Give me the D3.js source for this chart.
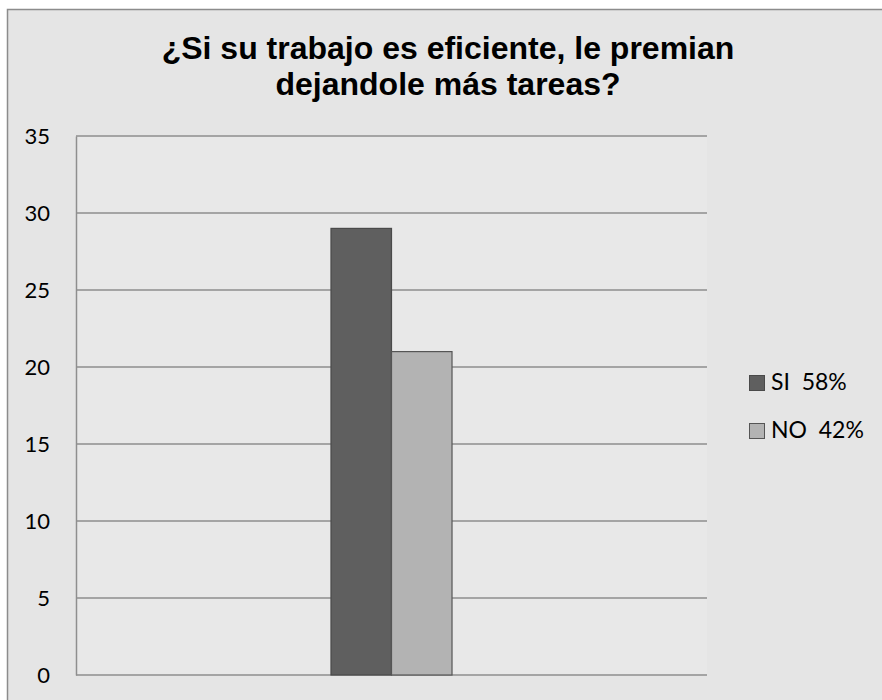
<!DOCTYPE html>
<html>
<head>
<meta charset="utf-8">
<script src="https://cdn.jsdelivr.net/npm/d3@7"></script>
<style>
  html, body { margin: 0; padding: 0; background: #ffffff; }
  svg { display: block; }
</style>
</head>
<body>
<div id="chart"></div>
<script>
// Survey answers: one question, two answer series
const categories = [""];
const seriesNames = ["SI", "NO"];
const seriesValues = [29, 21];
const seriesLegend = ["SI  58%", "NO  42%"];
const yTicks = [0, 5, 10, 15, 20, 25, 30, 35];
const titleLines = ["¿Si su trabajo es eficiente, le premian", "dejandole más tareas?"];

const W = 882, H = 700;
const plot = { left: 76, right: 707, top: 136, bottom: 675 };
const fills = ["#5f5f5f", "#b3b3b3"];
const strokes = ["#4a4a4a", "#555555"];

const svg = d3.select("#chart").append("svg")
  .attr("width", W).attr("height", H);

// chart frame
svg.append("rect")
  .attr("x", 7.5).attr("y", 9.5)
  .attr("width", W).attr("height", H)
  .attr("fill", "#e5e5e5")
  .attr("stroke", "#8c8c8c").attr("stroke-width", 1.5);

// plot area
svg.append("rect")
  .attr("x", plot.left).attr("y", plot.top)
  .attr("width", plot.right - plot.left).attr("height", plot.bottom - plot.top)
  .attr("fill", "#e8e8e8");

// title
svg.append("g").selectAll("text").data(titleLines).join("text")
  .attr("x", 448).attr("y", (d, i) => 59 + i * 36)
  .attr("text-anchor", "middle")
  .attr("font-family", "'Liberation Sans', Arial, sans-serif")
  .attr("font-weight", "bold").attr("font-size", 32)
  .attr("fill", "#000")
  .text(d => d);

const y = d3.scaleLinear().domain([0, 35]).range([plot.bottom, plot.top]);
const x0 = d3.scaleBand().domain(categories)
  .range([plot.left, plot.right]).paddingInner(0).paddingOuter(2.107);
const x1 = d3.scaleBand().domain(seriesNames).range([0, x0.bandwidth()]);

// gridlines
svg.append("g").selectAll("line").data(yTicks).join("line")
  .attr("x1", plot.left).attr("x2", plot.right)
  .attr("y1", d => y(d)).attr("y2", d => y(d))
  .attr("stroke", "#8e8e8e").attr("stroke-width", 1.5);

// y axis
const yAxis = svg.append("g")
  .attr("transform", `translate(${plot.left},0)`)
  .call(d3.axisLeft(y).tickValues(yTicks).tickSize(0).tickPadding(26));
yAxis.select(".domain").attr("stroke", "#8e8e8e").attr("stroke-width", 1.5);
yAxis.selectAll("text")
  .attr("font-family", "Lato, 'Open Sans', sans-serif")
  .attr("font-size", 22).attr("fill", "#000");

// bars
const group = svg.append("g")
  .attr("transform", `translate(${x0(categories[0])},0)`);
group.selectAll("rect").data(seriesValues).join("rect")
  .attr("x", (d, i) => x1(seriesNames[i]))
  .attr("y", d => y(d))
  .attr("width", x1.bandwidth())
  .attr("height", d => y(0) - y(d))
  .attr("fill", (d, i) => fills[i])
  .attr("stroke", (d, i) => strokes[i]).attr("stroke-width", 1.2);

// legend
const legend = svg.append("g").attr("transform", "translate(749,375)");
const items = legend.selectAll("g").data(seriesLegend).join("g")
  .attr("transform", (d, i) => `translate(0,${i * 48})`);
items.append("rect")
  .attr("x", 0.5).attr("y", 0.5).attr("width", 15).attr("height", 15)
  .attr("fill", (d, i) => fills[i])
  .attr("stroke", (d, i) => strokes[i]).attr("stroke-width", 1);
items.append("text")
  .attr("x", 22).attr("y", 15)
  .attr("font-family", "Lato, 'Open Sans', sans-serif")
  .attr("font-size", 23).attr("fill", "#000")
  .style("white-space", "pre")
  .text(d => d);
</script>
</body>
</html>
